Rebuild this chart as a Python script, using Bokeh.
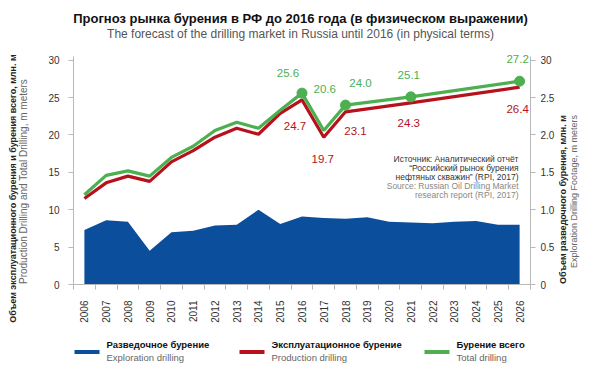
import math
from bokeh.plotting import figure
from bokeh.models import (Range1d, LinearAxis, FixedTicker, CustomJSTickFormatter,
                          Label, BoxAnnotation, ColumnDataSource)
from bokeh.embed import file_html
from bokeh.resources import INLINE
from bokeh.core.properties import value

# ---------------- data ----------------
years = list(range(2006, 2027))
# Exploration drilling, mln m (right axis)
exploration = [0.73, 0.86, 0.84, 0.45, 0.70, 0.72, 0.79, 0.80, 1.00, 0.81,
               0.91, 0.89, 0.88, 0.90, 0.84, 0.83, 0.82, 0.84, 0.85, 0.80, 0.80]

# Line vertices (left axis, mln m)
line_years = [2006, 2007, 2008, 2009, 2010, 2011, 2012, 2013, 2014, 2015,
              2016, 2017, 2018, 2021, 2026]
total = [12.0, 14.6, 15.2, 14.5, 17.0, 18.5, 20.6, 21.7, 20.9, 23.3,
         25.6, 20.6, 24.0, 25.1, 27.2]
production = [11.5, 13.6, 14.5, 13.8, 16.4, 17.9, 19.7, 20.9, 20.1, 22.9,
              24.7, 19.7, 23.1, 24.3, 26.4]

labeled_years = [2016, 2017, 2018, 2021, 2026]
marker_years = [2016, 2018, 2021, 2026]

left_ticks = [0, 5, 10, 15, 20, 25, 30]
right_ticks = [0, 0.5, 1.0, 1.5, 2.0, 2.5, 3.0]

title_ru = "Прогноз рынка бурения в РФ до 2016 года (в физическом выражении)"
title_en = "The forecast of the drilling market in Russia until 2016 (in physical terms)"
left_title_ru = "Объем эксплуатационного бурения и бурения всего, млн. м"
left_title_en = "Production Drilling and Total Drilling, m meters"
right_title_ru = "Объем разведочного бурения, млн. м"
right_title_en = "Exploration Drilling Footage, m meters"
source_ru = ["Источник: Аналитический отчёт", "\u201cРоссийский рынок бурения",
             "нефтяных скважин\u201d (RPI, 2017)"]
source_en = ["Source: Russian Oil Drilling Market", "research report (RPI, 2017)"]
legend_ru = ["Разведочное бурение", "Эксплуатационное бурение", "Бурение всего"]
legend_en = ["Exploration drilling", "Production drilling", "Total drilling"]

# ---------------- styles / layout ----------------
BLUE = "#0b4f9c"
RED = "#b5121b"
GREEN = "#4caf50"
FONT = "Liberation Sans"
AXIS_GRAY = "#b8b8b8"
W, H = 600, 367
PX_L, PX_R = 73, 530      # pixel position of the category-axis ends
PX_B, PX_T = 284, 56      # pixel position of y = 0 and of the axis top
X_LO, X_HI = 2005.5, 2026.5
Y_TOP = 30.5

kx = (PX_R - PX_L) / (X_HI - X_LO)
ky = (PX_B - PX_T) / Y_TOP
x_range = Range1d(X_LO - PX_L / kx, X_HI + (W - PX_R) / kx)
y_lo = -(H - PX_B) / ky
y_hi = Y_TOP + PX_T / ky

# label offsets in px (style only): (dx, dy) with dy positive = down
green_off = [(-14, -20), (1, -42), (15, -22), (-2, -22), (-2, -22)]
red_off = [(-7, 26), (-1, 22), (10, 19), (-2, 20), (-2, 22)]

p = figure(frame_width=W, frame_height=H, min_border=0,
           x_range=x_range, y_range=Range1d(y_lo, y_hi),
           output_backend="svg", toolbar_location=None)
p.extra_y_ranges = {"right": Range1d(y_lo / 10, y_hi / 10)}
p.outline_line_color = None
p.xgrid.visible = False
p.ygrid.visible = False
p.background_fill_color = "white"
p.border_fill_color = "white"

# area (exploration)
src_area = ColumnDataSource(dict(x=years, y=exploration))
p.varea(x="x", y1=0, y2="y", source=src_area, fill_color=BLUE,
        y_range_name="right")

# lines
src_line = ColumnDataSource(dict(x=line_years, total=total, prod=production))
p.line("x", "prod", source=src_line, line_color=RED, line_width=3.2)
p.line("x", "total", source=src_line, line_color=GREEN, line_width=3.2)

mk = [line_years.index(y) for y in marker_years]
p.scatter([line_years[i] for i in mk], [total[i] for i in mk], size=10,
          fill_color=GREEN, line_color=GREEN)

# data labels
li = [line_years.index(y) for y in labeled_years]
gsrc = ColumnDataSource(dict(x=[line_years[i] for i in li], y=[total[i] for i in li],
                             t=["%.1f" % total[i] for i in li],
                             dx=[o[0] for o in green_off], dy=[o[1] for o in green_off]))
rsrc = ColumnDataSource(dict(x=[line_years[i] for i in li], y=[production[i] for i in li],
                             t=["%.1f" % production[i] for i in li],
                             dx=[o[0] for o in red_off], dy=[o[1] for o in red_off]))
for s, c in ((gsrc, GREEN), (rsrc, RED)):
    p.text("x", "y", text="t", source=s, x_offset="dx", y_offset="dy",
           text_color=c, text_font=value(FONT), text_font_size="11.5px",
           text_align="center", text_baseline="middle")

# axes (drawn at fixed locations inside the full-canvas frame)
xa = p.xaxis[0]
xa.fixed_location = 0
xa.bounds = (X_LO, X_HI)
xa.ticker = FixedTicker(ticks=years, minor_ticks=[y - 0.5 for y in years] + [X_HI])
xa.formatter = CustomJSTickFormatter(code="return tick.toFixed(0);")
xa.major_tick_out = 0
xa.major_tick_in = 0
xa.minor_tick_out = 5
xa.minor_tick_in = 0
xa.minor_tick_line_color = AXIS_GRAY
xa.axis_line_color = AXIS_GRAY
xa.major_label_orientation = math.pi / 2
xa.major_label_standoff = 11
xa.major_label_text_font = FONT
xa.major_label_text_font_size = "10px"
xa.major_label_text_color = "#333333"

ya = p.yaxis[0]
ya.fixed_location = X_LO
ya.bounds = (0, Y_TOP)
ya.ticker = FixedTicker(ticks=left_ticks, minor_ticks=[])
ya.major_tick_out = 5
ya.major_tick_in = 0
ya.major_tick_line_color = AXIS_GRAY
ya.axis_line_color = AXIS_GRAY
ya.major_label_standoff = 9
ya.major_label_text_font = FONT
ya.major_label_text_font_size = "10px"
ya.major_label_text_color = "#333333"

ra = LinearAxis(y_range_name="right", fixed_location=X_HI, bounds=(0, Y_TOP / 10),
                ticker=FixedTicker(ticks=right_ticks, minor_ticks=[]),
                formatter=CustomJSTickFormatter(
                    code="if (tick == 0) return '0'; if (tick == 3) return '30'; return tick.toFixed(1);"))
ra.major_tick_out = 5
ra.major_tick_in = 0
ra.major_tick_line_color = AXIS_GRAY
ra.axis_line_color = AXIS_GRAY
ra.major_label_standoff = 5
ra.major_label_text_font = FONT
ra.major_label_text_font_size = "10px"
ra.major_label_text_color = "#333333"
p.add_layout(ra, "right")


# ---------- text annotations (picture coords -> screen units) ----------
def sy(Y):
    return H - Y


def add_label(text, X, Y, size, color, bold=False, align="center", angle=0.0):
    p.add_layout(Label(x=X, y=sy(Y), x_units="screen", y_units="screen",
                       text=text, text_font=FONT, text_font_size=size,
                       text_color=color, text_font_style="bold" if bold else "normal",
                       text_align=align, text_baseline="middle", angle=angle))


add_label(title_ru, 300, 18, "13px", "#111111", bold=True)
add_label(title_en, 300, 33, "12px", "#555555")
add_label(left_title_ru, 12, 188, "9px", "#222222", bold=True, angle=math.pi / 2)
add_label(left_title_en, 23, 181, "10px", "#666666", angle=math.pi / 2)
add_label(right_title_ru, 562, 199, "9px", "#222222", bold=True, angle=math.pi / 2)
add_label(right_title_en, 573, 191, "9px", "#666666", angle=math.pi / 2)

for i, t in enumerate(source_ru):
    add_label(t, 518, 158 + 9 * i, "8.5px", "#333333", align="right")
for i, t in enumerate(source_en):
    add_label(t, 518, 185 + 9 * i, "8.5px", "#888888", align="right")

leg_x = [74, 239, 424]
for x0, c, ru, en in zip(leg_x, [BLUE, RED, GREEN], legend_ru, legend_en):
    p.add_layout(BoxAnnotation(left=x0, right=x0 + 25, top=sy(349.5), bottom=sy(353.5),
                               left_units="screen", right_units="screen",
                               top_units="screen", bottom_units="screen",
                               fill_color=c, fill_alpha=1.0, line_color=None))
    add_label(ru, x0 + 32, 344, "9.5px", "#111111", bold=True, align="left")
    add_label(en, x0 + 32, 357, "9.5px", "#666666", align="left")

open("out.html", "w").write(file_html(p, INLINE))
